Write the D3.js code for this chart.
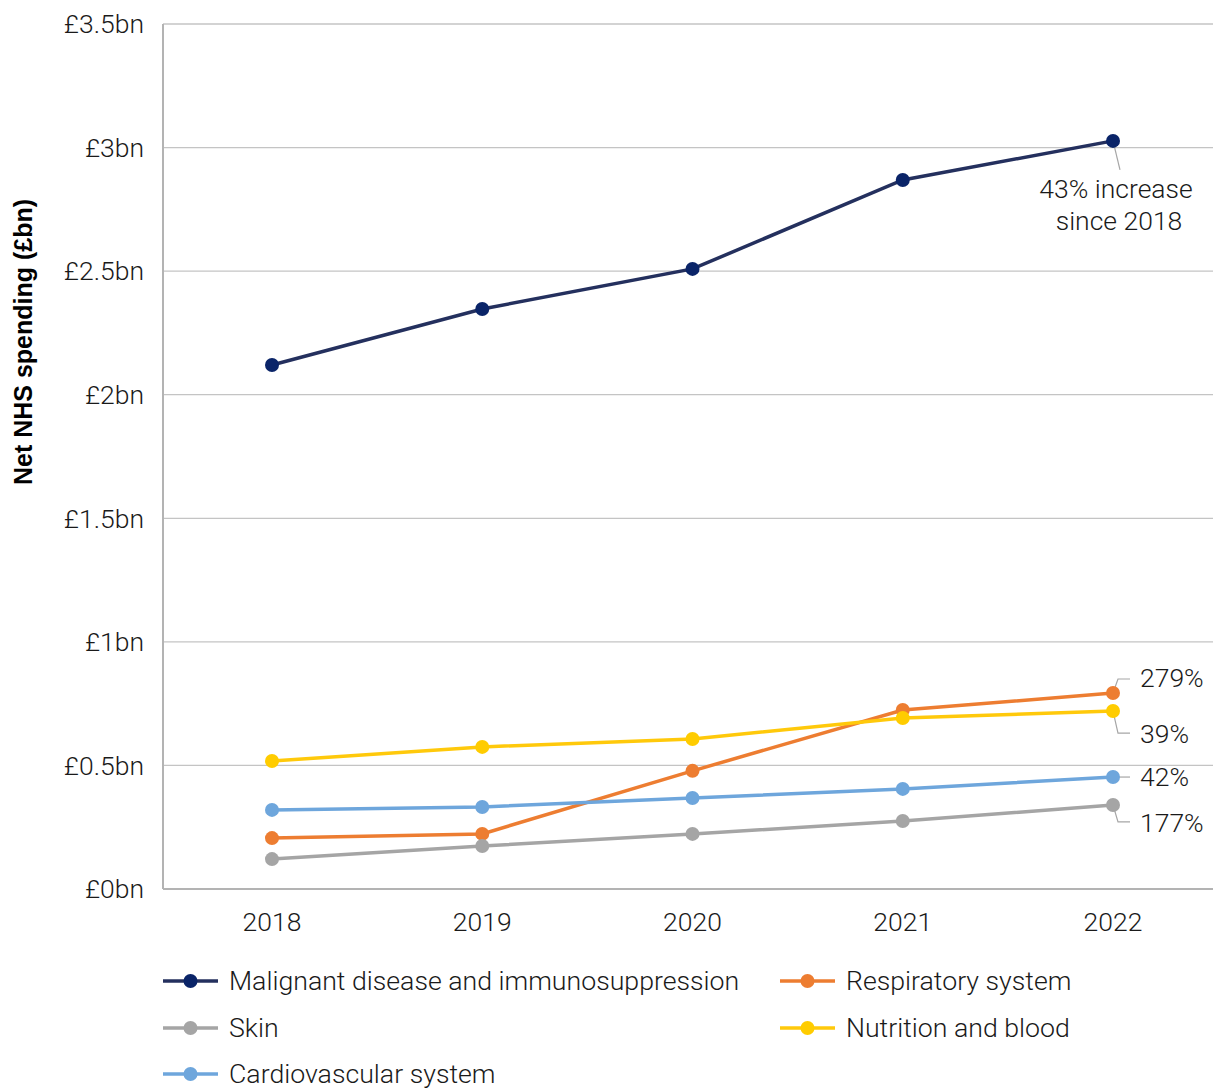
<!DOCTYPE html>
<html>
<head>
<meta charset="utf-8">
<script src="https://cdn.jsdelivr.net/npm/d3@7"></script>
<style>
  body { margin: 0; background: #fff; }
  text { font-family: Roboto, sans-serif; font-weight: 300; fill: #1a1a1a; }
</style>
</head>
<body>
<svg width="1214" height="1090"></svg>
<script>
const years = ['2018', '2019', '2020', '2021', '2022'];
const yTicks = [0, 0.5, 1, 1.5, 2, 2.5, 3, 3.5];
const yTickLabels = ['£0bn', '£0.5bn', '£1bn', '£1.5bn', '£2bn', '£2.5bn', '£3bn', '£3.5bn'];

const malignant = [2.12, 2.347, 2.509, 2.869, 3.027];
const respiratory = [0.206, 0.223, 0.478, 0.724, 0.793];
const skin = [0.121, 0.174, 0.223, 0.275, 0.340];
const nutrition = [0.518, 0.575, 0.607, 0.692, 0.720];
const cardio = [0.320, 0.332, 0.368, 0.405, 0.453];

const seriesNames = ['Malignant disease and immunosuppression', 'Respiratory system', 'Skin', 'Nutrition and blood', 'Cardiovascular system'];
const changeLabels = ['43% increase since 2018', '279%', '177%', '39%', '42%'];

const colors = {
    line: ['#24305e', '#ed7d31', '#a5a5a5', '#ffc90b', '#6ea6dc'],
    dot: ['#0a2468', '#ed7d31', '#a5a5a5', '#ffcc00', '#6ea6dc']
};

const series = [malignant, respiratory, skin, nutrition, cardio].map(function (values, i) {
    return {name: seriesNames[i], values: values, line: colors.line[i], dot: colors.dot[i], label: changeLabels[i]};
});

const svg = d3.select('svg');
const margin = {left: 163, right: 1213, top: 24, bottom: 889};

const x = d3.scalePoint().domain(years).range([272, 1113]);
const xc = function (d) { return x(d); };
const y = d3.scaleLinear().domain([0, 3.5]).range([margin.bottom, margin.top]);

// gridlines
svg.append('g')
    .selectAll('line')
    .data(yTicks.slice(1))
    .enter().append('line')
    .attr('x1', margin.left).attr('x2', margin.right)
    .attr('y1', function (d) { return y(d); })
    .attr('y2', function (d) { return y(d); })
    .attr('stroke', '#c4c4c4').attr('stroke-width', 1.3);

// axes lines
svg.append('line').attr('x1', margin.left).attr('x2', margin.left)
    .attr('y1', margin.top).attr('y2', margin.bottom)
    .attr('stroke', '#b3b3b3').attr('stroke-width', 2);
svg.append('line').attr('x1', margin.left).attr('x2', margin.right)
    .attr('y1', margin.bottom).attr('y2', margin.bottom)
    .attr('stroke', '#b3b3b3').attr('stroke-width', 2);

// y tick labels
svg.append('g')
    .selectAll('text')
    .data(yTicks)
    .enter().append('text')
    .attr('x', 144)
    .attr('y', function (d) { return y(d); })
    .attr('dy', '0.35em')
    .attr('text-anchor', 'end')
    .style('font-size', '26.5px')
    .text(function (d, i) { return yTickLabels[i]; });

// x tick labels
svg.append('g')
    .selectAll('text')
    .data(years)
    .enter().append('text')
    .attr('x', xc)
    .attr('y', 931)
    .attr('text-anchor', 'middle')
    .style('font-size', '26.5px')
    .text(function (d) { return d; });

// axis title
svg.append('text')
    .attr('transform', 'translate(32,' + 342 + ') rotate(-90)')
    .attr('text-anchor', 'middle')
    .style('font-family', '"Liberation Sans", Arial, sans-serif')
    .style('font-weight', 'bold')
    .style('font-size', '25px')
    .style('fill', '#000')
    .text('Net NHS spending (£bn)');

// annotation leaders (drawn first so dots sit on top)
const lx = xc('2022');
const leaders = [
    [[lx, y(malignant[4])], [lx + 7, y(malignant[4]) + 29]],
    [[lx, y(respiratory[4])], [lx + 5, y(respiratory[4]) - 14], [lx + 17, y(respiratory[4]) - 14]],
    [[lx, y(nutrition[4])], [lx + 5, y(nutrition[4]) + 22], [lx + 17, y(nutrition[4]) + 22]],
    [[lx, y(cardio[4])], [lx + 17, y(cardio[4])]],
    [[lx, y(skin[4])], [lx + 5, y(skin[4]) + 17], [lx + 17, y(skin[4]) + 17]]
];
svg.append('g')
    .selectAll('path')
    .data(leaders)
    .enter().append('path')
    .attr('d', d3.line())
    .attr('fill', 'none')
    .attr('stroke', '#a6a6a6')
    .attr('stroke-width', 1.2);

const line = d3.line()
    .x(function (d, i) { return xc(years[i]); })
    .y(function (d) { return y(d); });

const seriesG = svg.append('g')
    .selectAll('g')
    .data(series)
    .enter().append('g');

seriesG.append('path')
    .attr('d', function (d) { return line(d.values); })
    .attr('fill', 'none')
    .attr('stroke', function (d) { return d.line; })
    .attr('stroke-width', 3.5);

seriesG.selectAll('circle')
    .data(function (d) { return d.values.map(function (v, i) { return {v: v, i: i, c: d.dot}; }); })
    .enter().append('circle')
    .attr('cx', function (d) { return xc(years[d.i]); })
    .attr('cy', function (d) { return y(d.v); })
    .attr('r', 7)
    .attr('fill', function (d) { return d.c; });

// annotation texts
const notes = svg.append('g').style('font-size', '26.5px');
notes.append('text').attr('x', 1116).attr('y', 198).attr('text-anchor', 'middle').text('43% increase');
notes.append('text').attr('x', 1119).attr('y', 230).attr('text-anchor', 'middle').text('since 2018');
[[respiratory, 1, -15], [nutrition, 3, 23], [cardio, 4, 0], [skin, 2, 18]].forEach(function (n) {
    notes.append('text')
        .attr('x', 1140)
        .attr('y', y(n[0][4]) + n[2])
        .attr('dy', '0.35em')
        .text(changeLabels[n[1]]);
});

// legend
const legendItems = [
    {s: series[0], x: 163, y: 981},
    {s: series[1], x: 780, y: 981},
    {s: series[2], x: 163, y: 1028},
    {s: series[3], x: 780, y: 1028},
    {s: series[4], x: 163, y: 1074}
];
const legend = svg.append('g')
    .selectAll('g')
    .data(legendItems)
    .enter().append('g')
    .attr('transform', function (d) { return 'translate(' + d.x + ',' + d.y + ')'; });
legend.append('line')
    .attr('x1', 0).attr('x2', 55)
    .attr('stroke', function (d) { return d.s.line; })
    .attr('stroke-width', 3.5);
legend.append('circle')
    .attr('cx', 27.5).attr('r', 7)
    .attr('fill', function (d) { return d.s.dot; });
legend.append('text')
    .attr('x', 66)
    .attr('dy', '0.35em')
    .style('font-size', '26.7px')
    .text(function (d) { return d.s.name; });
</script>
</body>
</html>
